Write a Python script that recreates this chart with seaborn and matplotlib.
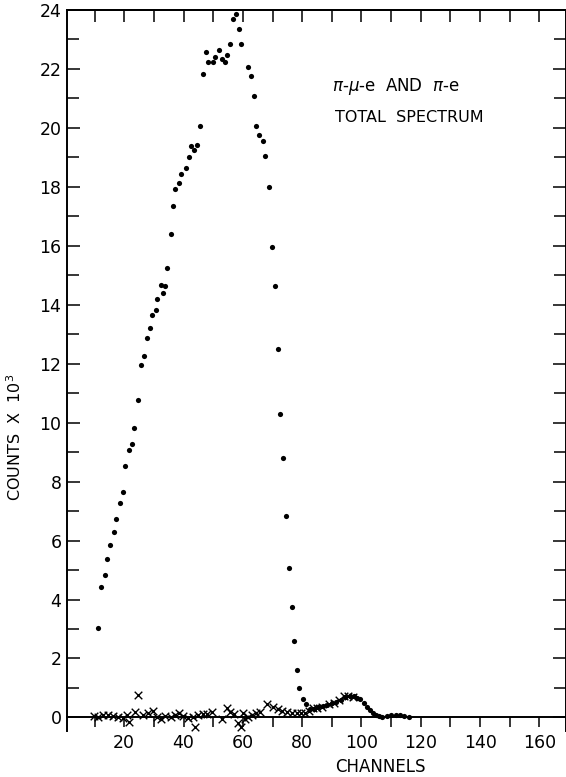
import numpy as np
import pandas as pd
import matplotlib
matplotlib.use("Agg")
import matplotlib.pyplot as plt
import seaborn as sns
from matplotlib.ticker import MultipleLocator

# ---- data ----
# total spectrum (pi-mu-e and pi-e), dots
total_channel = [11.1, 12.3, 13.5, 14.3, 15.3, 16.5, 17.2, 18.5, 19.5, 20.4, 21.5, 22.6, 23.2, 24.5,
                 25.7, 26.6, 27.8, 28.6, 29.5, 30.7, 31.2, 32.4, 33.2, 33.9, 34.5,
                 35.7, 36.5, 37.2, 38.6, 39.2, 40.7, 41.8, 42.4, 43.6, 44.5, 45.7, 46.6, 47.7, 48.3,
                 50.0, 50.7, 52.0, 52.9, 53.9, 54.6, 55.8, 56.7, 57.8, 58.6, 59.3, 61.7, 62.8, 63.9,
                 64.6, 65.5, 66.7, 67.6, 68.9,
                 69.9, 70.8, 71.8, 72.5, 73.5, 74.6, 75.5, 76.5, 77.3, 78.2, 79.1, 80.2, 81.4,
                 82.5, 84.0, 85.5, 87.0, 88.5, 90.0, 91.5, 93.0, 94.5, 96.0, 97.5, 98.6, 99.6,
                 100.7, 101.8, 103.0, 104.0, 105.0, 106.0, 107.0, 108.5, 110.0, 111.5, 113.0,
                 114.5, 116.0]
total_counts = [3.03, 4.43, 4.84, 5.38, 5.84, 6.30, 6.72, 7.29, 7.65, 8.54, 9.07, 9.29, 9.81, 10.77,
                11.96, 12.27, 12.88, 13.21, 13.66, 13.82, 14.20, 14.67, 14.41, 14.65, 15.26,
                16.39, 17.36, 17.94, 18.13, 18.45, 18.65, 19.00, 19.39, 19.24, 19.42, 20.06, 21.83,
                22.57, 22.24, 22.25, 22.42, 22.64, 22.34, 22.22, 22.46, 22.84, 23.69, 23.86, 23.34,
                22.86, 22.08, 21.75, 21.09, 20.06, 19.77, 19.57, 19.06, 17.98,
                15.97, 14.64, 12.50, 10.30, 8.80, 6.85, 5.07, 3.75, 2.60, 1.60, 0.99, 0.62, 0.46,
                0.30, 0.28, 0.35, 0.38, 0.42, 0.48, 0.52, 0.60, 0.68, 0.72, 0.72, 0.67, 0.62,
                0.50, 0.37, 0.25, 0.14, 0.07, 0.04, 0.03, 0.06, 0.07, 0.07, 0.07,
                0.06, 0.03]

# pi-e spectrum, crosses
pe_channel = [9.8, 11.3, 12.9, 14.6, 16.3, 18.0, 19.7, 20.8, 21.7, 23.6, 24.7, 26.4, 28.1, 29.6,
              31.2, 32.3, 33.8, 35.7, 37.1, 38.6, 39.9, 41.6, 43.1, 43.9, 45.0, 46.5, 48.0, 49.7,
              52.9, 54.6, 55.7, 57.0, 58.2, 59.3, 60.0, 60.8, 61.9, 63.0, 64.5, 65.8, 68.2, 70.0,
              71.7, 73.2, 74.8, 76.5, 78.1, 79.6, 81.0, 82.3, 83.6, 85.0, 86.6, 88.9, 90.6, 92.3,
              94.2, 95.6, 97.1]
pe_counts = [0.06, 0.03, 0.07, 0.07, 0.05, 0.00, -0.03, 0.08, -0.14, 0.20, 0.76, 0.08, 0.14, 0.23,
             0.03, -0.06, 0.05, 0.01, 0.08, 0.14, 0.05, -0.02, 0.01, -0.31, 0.08, 0.11, 0.11, 0.20,
             -0.05, 0.31, 0.20, 0.11, -0.20, -0.31, 0.14, -0.06, 0.01, 0.08, 0.14, 0.18, 0.47, 0.37,
             0.30, 0.22, 0.17, 0.16, 0.16, 0.15, 0.14, 0.22, 0.31, 0.31, 0.37, 0.46, 0.50, 0.59,
             0.73, 0.73, 0.71]

x_tick_labels = ["20", "40", "60", "80", "100", "120", "140", "160"]
y_tick_labels = ["0", "2", "4", "6", "8", "10", "12", "14", "16", "18", "20", "22", "24"]

total_df = pd.DataFrame({"channel": total_channel, "counts": total_counts})
pe_df = pd.DataFrame({"channel": pe_channel, "counts": pe_counts})

sns.set_style("ticks")
plt.rcParams['font.family'] = ['DejaVu Sans']
plt.rcParams.update({"text.color": "black", "axes.labelcolor": "black",
                     "xtick.color": "black", "ytick.color": "black",
                     "axes.edgecolor": "black"})

W, H = 566, 777
fig = plt.figure(figsize=(W / 100, H / 100), dpi=100)
ax = fig.add_axes([67 / W, 46 / H, 498.5 / W, 721 / H])

sns.scatterplot(data=pe_df, x="channel", y="counts", marker="x", s=30,
                color="black", linewidth=1.0, ax=ax, zorder=3)
sns.scatterplot(data=total_df, x="channel", y="counts", marker="o", s=14,
                color="black", linewidth=0, ax=ax, zorder=4)

ax.set_xlim(0.7, 168.8)
ax.set_ylim(-0.46, 24)
ax.set_xlabel("")
ax.set_ylabel("")

for s in ax.spines.values():
    s.set_visible(True)
    s.set_linewidth(1.4)
    s.set_color("black")
ax.spines['bottom'].set_position(('data', 0))

# x ticks (bottom, hanging down from the zero line)
xt = [int(t) for t in x_tick_labels]
ax.set_xticks(xt)
ax.set_xticklabels(x_tick_labels)
ax.xaxis.set_minor_locator(MultipleLocator(10))
ax.tick_params(axis='x', which='both', direction='out', length=7.2, width=1.1,
               top=False, bottom=True, labelsize=12.5, pad=5, colors="black")

# top ticks pointing inward
top = ax.secondary_xaxis('top')
top.set_xticks(np.arange(10, 170, 10))
top.tick_params(direction='in', length=8.6, width=1.1, labeltop=False, colors="black")
top.spines['top'].set_linewidth(1.4)
top.spines['top'].set_color("black")

# y ticks, inward on both sides
yt = [int(t) for t in y_tick_labels]
ax.set_yticks(yt)
ax.set_yticklabels(y_tick_labels)
ax.yaxis.set_minor_locator(MultipleLocator(1))
ax.tick_params(axis='y', which='major', direction='in', length=9.4, width=1.1,
               left=True, right=True, labelsize=12.5, pad=4, colors="black")
ax.tick_params(axis='y', which='minor', direction='in', length=8.6, width=1.1,
               left=True, right=True, colors="black")

ax.text(90.2, 21.4, r"$\pi$-$\mu$-e  AND  $\pi$-e", fontsize=12, va="center", ha="left",
        color="black")
ax.text(91.0, 20.35, "TOTAL  SPECTRUM", fontsize=11.5, va="center", ha="left", color="black")

fig.text(380 / W, 1 - 767 / H, "CHANNELS", ha="center", va="center", fontsize=12, color="black")
fig.text(15 / W, 1 - 437 / H, r"COUNTS  X  10$^3$", ha="center", va="center",
         rotation=90, fontsize=11.5, color="black")

fig.savefig("out.png", dpi=100)
